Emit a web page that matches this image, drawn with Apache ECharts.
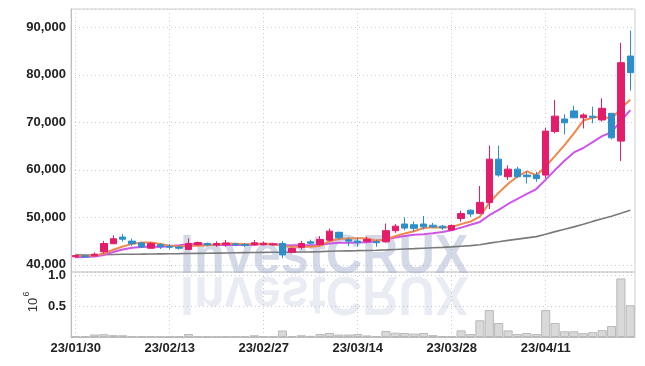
<!DOCTYPE html>
<html>
<head>
<meta charset="utf-8">
<script src="https://cdn.jsdelivr.net/npm/echarts@6/dist/echarts.min.js"></script>
<style>
  html, body { margin: 0; padding: 0; background: #fff; }
  #chart { width: 645px; height: 366px; }
</style>
</head>
<body>
<div id="chart"></div>
<script>
var dates = [
  "23/01/30", "23/01/31", "23/02/01", "23/02/02", "23/02/03", "23/02/06", "23/02/07", "23/02/08", "23/02/09", "23/02/10",
  "23/02/13", "23/02/14", "23/02/15", "23/02/16", "23/02/17", "23/02/20", "23/02/21", "23/02/22", "23/02/23", "23/02/24",
  "23/02/27", "23/02/28", "23/03/02", "23/03/03", "23/03/06", "23/03/07", "23/03/08", "23/03/09", "23/03/10", "23/03/13",
  "23/03/14", "23/03/15", "23/03/16", "23/03/17", "23/03/20", "23/03/21", "23/03/22", "23/03/23", "23/03/24", "23/03/27",
  "23/03/28", "23/03/29", "23/03/30", "23/03/31", "23/04/03", "23/04/04", "23/04/05", "23/04/06", "23/04/07", "23/04/10",
  "23/04/11", "23/04/12", "23/04/13", "23/04/14", "23/04/17", "23/04/18", "23/04/19", "23/04/20", "23/04/21", "23/04/24"
];
var opens = [41700, 41900, 41900, 42750, 44450, 45850, 45000, 44600, 43500, 44250, 43900, 43750, 43250, 44250, 44500, 44200, 44250, 44400, 44300, 44200,
  44250, 44200, 44500, 42650, 43700, 44850, 44300, 45200, 46850, 45300, 45000, 44950, 44850, 44850, 47200, 48600, 48450, 48600, 48350, 48150,
  47350, 49750, 51500, 50850, 53100, 62250, 58550, 60150, 58900, 58900, 58900, 68050, 70700, 72400, 70950, 71300, 70500, 71900, 66050, 83950];
var closes = [41950, 41700, 42250, 44500, 45500, 45400, 44450, 43750, 44500, 43850, 43700, 43500, 44500, 44700, 44200, 44500, 44600, 44200, 44100, 44650,
  44550, 44400, 42100, 43450, 44500, 44550, 45350, 47100, 45700, 45000, 44750, 45350, 44650, 47200, 48150, 47750, 47700, 48000, 48000, 47800,
  48300, 50800, 50700, 53150, 62250, 58900, 60150, 58550, 58550, 58150, 68150, 71300, 69900, 70950, 71550, 71050, 72950, 66750, 82550, 80450];
var lows = [41500, 41450, 41800, 42400, 44400, 44900, 44000, 43550, 43350, 43350, 43250, 43200, 43100, 44100, 44000, 43800, 43800, 43900, 43750, 44000,
  44100, 44050, 41400, 42400, 43250, 44300, 44100, 44950, 45350, 43950, 43800, 44650, 43800, 44650, 46750, 47300, 47000, 47450, 47750, 47350,
  47200, 49100, 50100, 50700, 51750, 58550, 57850, 58350, 57150, 57500, 58200, 67700, 67450, 70950, 68700, 69800, 70150, 66400, 61850, 76650];
var highs = [42100, 42000, 42600, 45000, 46200, 46500, 45550, 44800, 44800, 44550, 44400, 43950, 45550, 44900, 44700, 44950, 45200, 44650, 44600, 45200,
  44900, 44600, 45000, 43650, 45050, 45300, 46050, 47650, 47000, 45750, 45750, 45900, 45350, 48700, 48600, 50000, 49100, 50300, 48850, 48400,
  48500, 51400, 51700, 56600, 65100, 65100, 60950, 60650, 59600, 59600, 68900, 74700, 71700, 73500, 71900, 73300, 75050, 71900, 86750, 89300];
var volumes = [8000, 12000, 40000, 45000, 30000, 28000, 10000, 8000, 10000, 6000, 8000, 12000, 48000, 10000, 8000, 6000, 8000, 10000, 15000, 28000,
  12000, 10000, 105000, 15000, 28000, 18000, 48000, 65000, 40000, 40000, 48000, 25000, 15000, 97000, 70000, 65000, 55000, 65000, 30000, 12000,
  15000, 107000, 48000, 270000, 435000, 226000, 107000, 48000, 65000, 48000, 435000, 226000, 92000, 92000, 62000, 78000, 110000, 177000, 946000, 514000];
var ma5 = [41900, 41850, 41950, 42400, 43180, 43870, 44420, 44720, 44720, 44390, 44050, 43860, 44010, 44050, 44120, 44280, 44500, 44440, 44320, 44410,
  44420, 44380, 43960, 43830, 43800, 43800, 43990, 44990, 45440, 45540, 45580, 45580, 45090, 45390, 46020, 46620, 47090, 47760, 47920, 47850,
  47960, 48580, 49120, 50160, 53080, 55200, 57070, 58610, 59680, 58860, 60700, 62940, 65200, 67680, 70370, 70950, 71280, 70650, 72970, 74750];
var ma10 = [41600, 41650, 41750, 42100, 42700, 43250, 43600, 43750, 43850, 43785, 43960, 44140, 44365, 44385, 44255, 44165, 44180, 44225, 44185, 44265,
  44350, 44440, 44200, 44075, 44105, 44110, 44185, 44475, 44635, 44670, 44690, 44785, 45040, 45415, 45780, 46100, 46335, 46425, 46655, 46935,
  47290, 47835, 48440, 49040, 50450, 51570, 52815, 53870, 54925, 55960, 57945, 59995, 61900, 63670, 64600, 65815, 67100, 67920, 70320, 72560];
var ma60 = [42100, 42090, 42090, 42120, 42170, 42220, 42250, 42270, 42300, 42320, 42340, 42360, 42390, 42420, 42450, 42480, 42510, 42540, 42570, 42600,
  42630, 42660, 42660, 42680, 42710, 42740, 42790, 42860, 42910, 42950, 42990, 43040, 43080, 43150, 43240, 43330, 43410, 43500, 43590, 43680,
  43780, 43920, 44060, 44240, 44570, 44850, 45150, 45420, 45690, 45950, 46450, 47000, 47500, 48000, 48550, 49150, 49700, 50250, 50850, 51500];

var candles = dates.map(function (d, i) {
  return [opens[i], closes[i], lows[i], highs[i]];
});

var labelFont = "'Liberation Sans', Arial, sans-serif";
var gridDots = { show: true, lineStyle: { color: "#c9cbd9", type: [1, 3], width: 1 } };
var tickText = { margin: 5, color: "#222", fontSize: 13, fontWeight: "bold", fontFamily: labelFont };

function comma(v) {
  return String(Math.round(v)).replace(/\B(?=(\d{3})+(?!\d))/g, ",");
}

var chart = echarts.init(document.getElementById("chart"));

var wmStyle = {
  text: "InvestCRUX",
  font: "bold 56px " + labelFont,
  verticalAlign: "bottom",
  y: 11
};

chart.setOption({
  animation: false,
  backgroundColor: "#ffffff",
  graphic: [
    { type: "text", x: 180, y: 275, scaleX: 0.9, z: 1, silent: true,
      style: Object.assign({ fill: "rgba(160,170,205,0.45)" }, wmStyle) },
    { type: "text", x: 180, y: 275, scaleX: 0.9, scaleY: -1, z: 1, silent: true,
      style: Object.assign({ fill: "rgba(160,170,205,0.22)" }, wmStyle) },
    { type: "text", x: 33, y: 305, rotation: Math.PI / 2, silent: true,
      style: { text: "10", font: "13px " + labelFont, fill: "#333", align: "center", verticalAlign: "middle" } },
    { type: "text", x: 27, y: 294, rotation: Math.PI / 2, silent: true,
      style: { text: "6", font: "9px " + labelFont, fill: "#333", align: "center", verticalAlign: "middle" } }
  ],
  grid: [
    { left: 71, right: 10, top: 9, height: 263, show: true, borderColor: "#cfcfcf", borderWidth: 1 },
    { left: 71, right: 10, top: 272, height: 65, show: true, borderColor: "#cfcfcf", borderWidth: 1 }
  ],
  xAxis: [
    {
      type: "category", gridIndex: 0, data: dates, boundaryGap: true,
      axisLine: { show: false }, axisTick: { show: false }, axisLabel: { show: false },
      splitLine: Object.assign({ interval: 9, alignWithLabel: true }, gridDots)
    },
    {
      type: "category", gridIndex: 1, data: dates, boundaryGap: true,
      axisLine: { lineStyle: { color: "#bdbdbd" } }, axisTick: { show: false },
      axisLabel: Object.assign({ interval: 9 }, tickText),
      splitLine: Object.assign({ interval: 9, alignWithLabel: true }, gridDots)
    }
  ],
  yAxis: [
    {
      type: "value", gridIndex: 0, min: 38500, max: 93850, splitNumber: 5, scale: true,
      axisLine: { show: true, lineStyle: { color: "#bdbdbd" } }, axisTick: { show: false },
      axisLabel: Object.assign({ showMinLabel: false, showMaxLabel: false, formatter: comma }, tickText),
      splitLine: gridDots
    },
    {
      type: "value", gridIndex: 1, min: 0, max: 1050000, interval: 500000,
      axisLine: { show: true, lineStyle: { color: "#bdbdbd" } }, axisTick: { show: false },
      axisLabel: Object.assign({ showMaxLabel: false,
        formatter: function (v) { return v === 0 ? "" : (v / 1e6).toFixed(1); } }, tickText),
      splitLine: gridDots
    }
  ],
  series: [
    {
      type: "bar", xAxisIndex: 1, yAxisIndex: 1, data: volumes, barCategoryGap: "3%",
      itemStyle: { color: "#d9d9d9", borderColor: "#b9b9b9", borderWidth: 1 }
    },
    {
      type: "line", data: ma60, symbol: "none", z: 3,
      lineStyle: { color: "#7a7a7a", width: 1.6 }
    },
    {
      type: "line", data: ma10, symbol: "none", z: 3,
      lineStyle: { color: "#cd55ea", width: 2 }
    },
    {
      type: "line", data: ma5, symbol: "none", z: 3,
      lineStyle: { color: "#f0884c", width: 2 }
    },
    {
      type: "candlestick", data: candles, barWidth: 7, z: 4,
      itemStyle: { color: "#e31c6c", color0: "#2c8fca", borderColor: "#e31c6c", borderColor0: "#2c8fca", borderWidth: 1 }
    }
  ]
});
</script>
</body>
</html>
